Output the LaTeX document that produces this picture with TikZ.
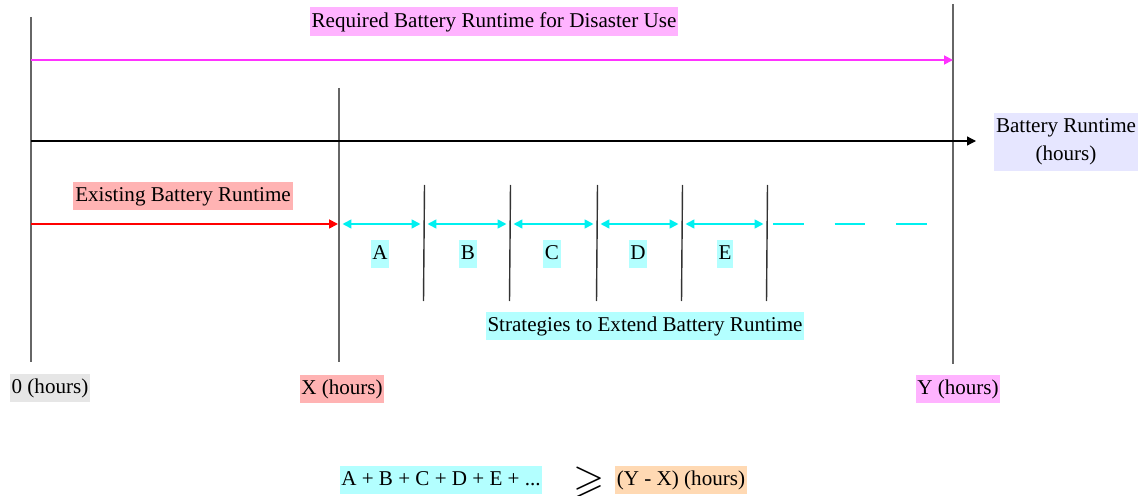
\documentclass[tikz,border=0pt]{standalone}
\usepackage{amssymb}
\usepackage{fontspec}
\setmainfont{Liberation Serif}
\usetikzlibrary{arrows.meta}
\definecolor{needline}{HTML}{FF33FF}
\definecolor{needfill}{HTML}{FFB3FF}
\definecolor{havefill}{HTML}{FFB3B3}
\definecolor{axisfill}{HTML}{E6E6FF}
\definecolor{stretchline}{HTML}{00F0F0}
\definecolor{stratfill}{HTML}{B3FFFF}
\definecolor{zerofill}{HTML}{E6E6E6}
\definecolor{gapfill}{HTML}{FFD9B3}
\definecolor{markgray}{HTML}{666666}

\begin{document}
\begin{tikzpicture}[x=0.02cm,y=-0.02cm,font=\fontsize{12}{14}\selectfont,
  lbl/.style={inner xsep=1pt,inner ysep=2.5pt,text height=9pt,text depth=2.5pt},
  hourmark/.style={draw=markgray,line width=0.8pt},
  tip/.style={-{Triangle[length=5pt,width=5pt]},line width=1pt},
  stretch/.style={{Triangle[length=5pt,width=5pt]}-{Triangle[length=5pt,width=5pt]},line width=1pt,stretchline}]
\useasboundingbox (0,0) rectangle (1138,496);

% hour marks
\coordinate (zeroTop) at (31,17);
\coordinate (zeroBot) at (31,362);
\coordinate (xTop) at (339,88);
\coordinate (xBot) at (339,362);
\coordinate (yTop) at (953,4);
\coordinate (yBot) at (953,364);
\draw[hourmark] (zeroTop) -- (zeroBot);
\draw[hourmark] (xTop) -- (xBot);
\draw[hourmark] (yTop) -- (yBot);

\node[lbl,fill=zerofill] (zero) at (50,388) {0 (hours)};
\node[lbl,fill=havefill] (xh) at (342,389) {X (hours)};
\node[lbl,fill=needfill] (yh) at (958,389) {Y (hours)};

% required runtime
\coordinate (need0) at (31,60);
\coordinate (need1) at (953,60);
\draw[tip,needline] (need0) -- (need1);
\node[lbl,fill=needfill] (need) at (494,22) {Required Battery Runtime for Disaster Use};

% axis
\coordinate (axis0) at (31,141);
\coordinate (axis1) at (976,141);
\draw[-{Triangle[length=5pt,width=5pt]},line width=0.7pt] (axis0) -- (axis1);
\node[fill=axisfill,align=center,inner xsep=1pt,inner ysep=3pt] (axis) at (1066,142)
  {Battery Runtime\\[2pt](hours)};

% existing runtime
\coordinate (have0) at (31,224);
\coordinate (have1) at (338,224);
\draw[tip,red] (have0) -- (have1);
\node[lbl,fill=havefill] (have) at (183,196) {Existing Battery Runtime};

% strategies
\foreach \x [count=\i] in {339,424,510,597,682,767}
  \coordinate (s\i) at (\x,224);
\foreach \x in {424,510,597,682,767}
  \draw[hourmark,draw=black!80] (\x+0.5,185) -- (\x-0.5,301);
\foreach \i/\j/\lab/\lx in {1/2/A/380,2/3/B/468,3/4/C/552,4/5/D/638,5/6/E/725}{
  \draw[stretch] ([xshift=2]s\i) -- ([xshift=-2]s\j);
  \node[lbl,fill=stratfill] (seg\lab) at (\lx,254) {\lab};}
\draw[stretchline,line width=1pt,dash pattern=on 17.5pt off 17.5pt] (773,224) -- (928,224);
\node[lbl,fill=stratfill] (strat) at (645,326) {Strategies to Extend Battery Runtime};

% condition
\node[lbl,fill=stratfill] (sum) at (441,480) {A + B + C + D + E + ...};
\node (geq) at (589,482) {\scalebox{1.9}{$\geqslant$}};
\node[lbl,fill=gapfill] (gap) at (681,480) {(Y - X) (hours)};
\end{tikzpicture}
\end{document}
